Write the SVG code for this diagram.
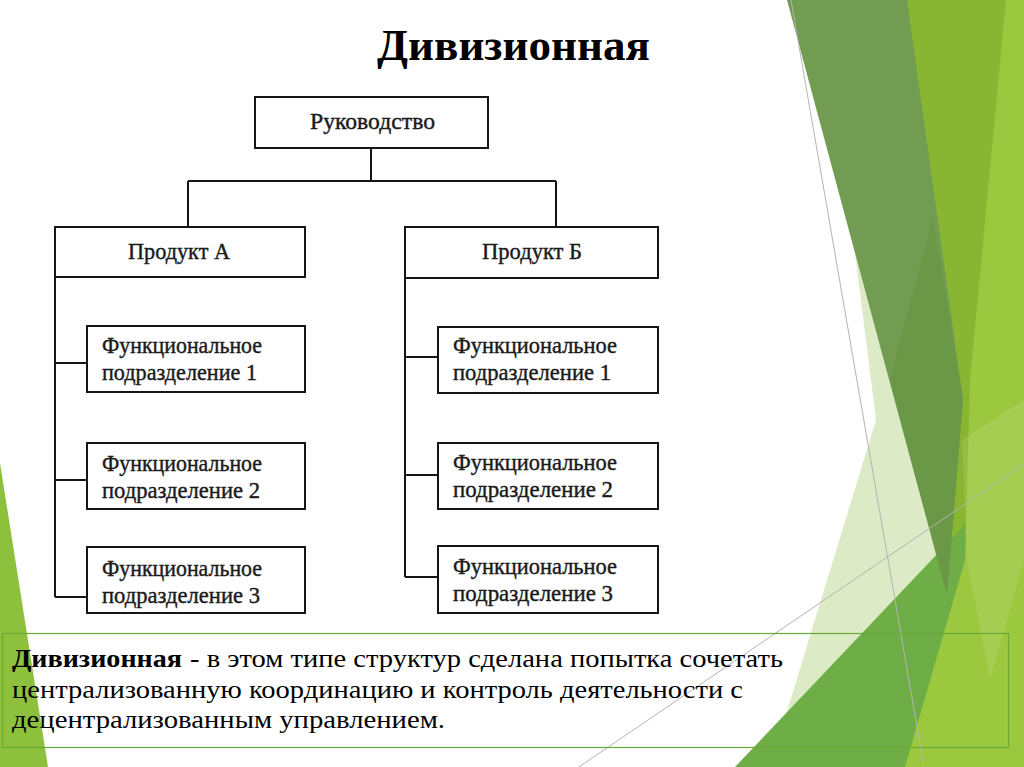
<svg xmlns="http://www.w3.org/2000/svg" width="1024" height="767" viewBox="0 0 1024 767">
<style>
.box{fill:#fff;stroke:#151515;stroke-width:2}
.con{fill:none;stroke:#151515;stroke-width:2}
.lbl{font-family:Liberation Serif,serif;font-size:23px;fill:#1a1a1a;stroke:#1a1a1a;stroke-width:0.4}
.body{font-family:Liberation Serif,serif;font-size:25px;fill:#000}
.thin{fill:none;stroke:#b4b4b4;stroke-width:1}
</style>
<rect width="1024" height="767" fill="#fff"/>
<g id="decor">
  <polygon points="0,463 48,767 0,767" fill="#8dc03c"/>
  <polygon points="905,0 1024,0 1024,767 905,767" fill="#88b532"/>
  <polygon points="855,253 950,600 880,767 770,767 876,420" fill="#dcebc6"/>
  <polygon points="735,767 960,530 1024,467 1024,767" fill="#6fae47"/>
  <polygon points="1006,0 1024,0 1024,767 905,767 965,560 970,380" fill="#9bc83f"/>
  <polygon points="787,0 907,0 963,400 947,595" fill="#719c52"/>
  <polygon points="890,380 933,217 963,400 947,595" fill="#5a8f2c" fill-opacity="0.3"/>
  <polygon points="962,440 1024,400 1024,560 990,680 967,560" fill="#ffffff" fill-opacity="0.1"/>
  <line class="thin" x1="791" y1="0" x2="924" y2="767"/>
  <line class="thin" x1="579" y1="767" x2="1024" y2="464"/>
</g>
<text x="377" y="60" font-family="Liberation Serif, serif" font-size="45" font-weight="bold" textLength="273" lengthAdjust="spacingAndGlyphs" fill="#000">Дивизионная</text>
<g id="connectors">
  <path class="con" d="M371,148 V181 M188,181 H556 M188,181 V228 M556,181 V228"/>
  <path class="con" d="M55,277 V597 M55,363 H87 M55,480 H87 M55,597 H87"/>
  <path class="con" d="M405,278 V577 M405,357 H438 M405,475 H438 M405,577 H438"/>
</g>
<g id="n-ruk">
  <rect class="box" x="255" y="97" width="233" height="51"/>
  <text class="lbl" x="310" y="129" textLength="125" lengthAdjust="spacingAndGlyphs">Руководство</text>
</g>
<g id="n-prodA">
  <rect class="box" x="55" y="227" width="250" height="50"/>
  <text class="lbl" x="128" y="259" textLength="102" lengthAdjust="spacingAndGlyphs">Продукт А</text>
</g>
<g id="n-prodB">
  <rect class="box" x="405" y="227" width="253" height="51"/>
  <text class="lbl" x="482" y="259" textLength="100" lengthAdjust="spacingAndGlyphs">Продукт Б</text>
</g>
<g id="n-A1">
  <rect class="box" x="87" y="326" width="218" height="66"/>
  <text class="lbl" x="102" y="353" textLength="160" lengthAdjust="spacingAndGlyphs">Функциональное</text>
  <text class="lbl" x="102" y="380" textLength="155" lengthAdjust="spacingAndGlyphs">подразделение 1</text>
</g>
<g id="n-A2">
  <rect class="box" x="87" y="443" width="218" height="66"/>
  <text class="lbl" x="102" y="471" textLength="160" lengthAdjust="spacingAndGlyphs">Функциональное</text>
  <text class="lbl" x="102" y="498" textLength="158" lengthAdjust="spacingAndGlyphs">подразделение 2</text>
</g>
<g id="n-A3">
  <rect class="box" x="87" y="547" width="218" height="66"/>
  <text class="lbl" x="102" y="576" textLength="160" lengthAdjust="spacingAndGlyphs">Функциональное</text>
  <text class="lbl" x="102" y="603" textLength="158" lengthAdjust="spacingAndGlyphs">подразделение 3</text>
</g>
<g id="n-B1">
  <rect class="box" x="438" y="327" width="220" height="66"/>
  <text class="lbl" x="453" y="353" textLength="164" lengthAdjust="spacingAndGlyphs">Функциональное</text>
  <text class="lbl" x="453" y="380" textLength="158" lengthAdjust="spacingAndGlyphs">подразделение 1</text>
</g>
<g id="n-B2">
  <rect class="box" x="438" y="443" width="220" height="66"/>
  <text class="lbl" x="453" y="470" textLength="164" lengthAdjust="spacingAndGlyphs">Функциональное</text>
  <text class="lbl" x="453" y="497" textLength="160" lengthAdjust="spacingAndGlyphs">подразделение 2</text>
</g>
<g id="n-B3">
  <rect class="box" x="438" y="546" width="220" height="67"/>
  <text class="lbl" x="453" y="574" textLength="164" lengthAdjust="spacingAndGlyphs">Функциональное</text>
  <text class="lbl" x="453" y="601" textLength="160" lengthAdjust="spacingAndGlyphs">подразделение 3</text>
</g>
<g id="caption">
  <rect x="2.5" y="633.5" width="1006" height="114" fill="none" stroke="#6aa838" stroke-width="1.2"/>
  <text class="body" x="12" y="667" font-weight="bold" textLength="170" lengthAdjust="spacingAndGlyphs">Дивизионная</text>
  <text class="body" x="190" y="667" textLength="593" lengthAdjust="spacingAndGlyphs">- в этом типе структур сделана попытка сочетать</text>
  <text class="body" x="12" y="698" textLength="731" lengthAdjust="spacingAndGlyphs">централизованную координацию и контроль деятельности с</text>
  <text class="body" x="12" y="728" textLength="433" lengthAdjust="spacingAndGlyphs">децентрализованным управлением.</text>
</g>
</svg>
